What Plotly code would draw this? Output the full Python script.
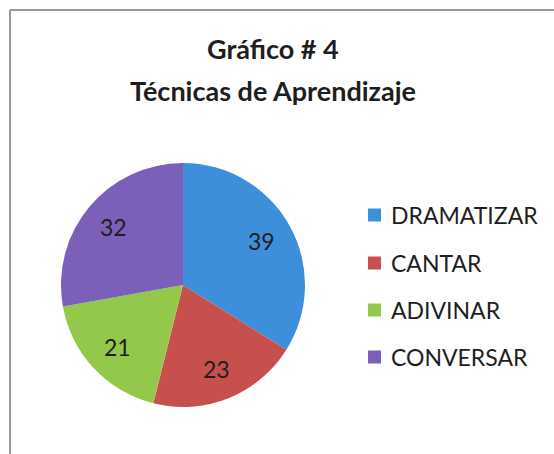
import math
import plotly.graph_objects as go

categories = ["DRAMATIZAR", "CANTAR", "ADIVINAR", "CONVERSAR"]
values = [39, 23, 21, 32]
colors = ["#3d8edb", "#c8504c", "#93c84b", "#7b5fb8"]
title_lines = ["Gráfico # 4", "Técnicas de Aprendizaje"]

W, H = 554, 454
cx, cy, r = 183, 285, 122
label_r = 0.74 * r

fig = go.Figure(go.Pie(
    labels=categories, values=values, sort=False, direction="clockwise", rotation=0,
    marker=dict(colors=colors, line=dict(width=0)),
    textinfo="none",
    domain=dict(x=[(cx - r) / W, (cx + r) / W], y=[(H - cy - r) / H, (H - cy + r) / H]),
    showlegend=False, hoverinfo="label+value",
))

shapes = [
    dict(type="line", xref="paper", yref="paper", x0=10 / W, x1=1, y0=1 - 10 / H, y1=1 - 10 / H,
         line=dict(color="#9a9a9a", width=2)),
    dict(type="line", xref="paper", yref="paper", x0=10 / W, x1=10 / W, y0=0, y1=1 - 10 / H,
         line=dict(color="#9a9a9a", width=2)),
]
annotations = []

# value labels placed along each slice's mid-angle
total = sum(values)
cum = 0
for v in values:
    mid = (cum + v / 2) / total * 2 * math.pi
    cum += v
    px = cx + label_r * math.sin(mid)
    py = cy - label_r * math.cos(mid)
    annotations.append(dict(text=str(v), xref="paper", yref="paper", x=px / W, y=1 - py / H,
                            xanchor="center", yanchor="middle", showarrow=False,
                            font=dict(family="Lato", size=23, color="#1e1e1e")))

leg_y = [215, 263, 310, 357]
for cat, col, yy in zip(categories, colors, leg_y):
    shapes.append(dict(type="rect", xref="paper", yref="paper",
                       x0=368 / W, x1=381 / W, y0=1 - (yy + 6.5) / H, y1=1 - (yy - 6.5) / H,
                       fillcolor=col, line=dict(width=0)))
    annotations.append(dict(text=cat, xref="paper", yref="paper", x=389 / W, y=1 - yy / H,
                            xanchor="left", yanchor="middle", showarrow=False,
                            font=dict(family="Lato", size=23, color="#1e1e1e")))
for txt, yy in zip(title_lines, [48, 90]):
    annotations.append(dict(text="<b>" + txt + "</b>", xref="paper", yref="paper", x=273 / W, y=1 - yy / H,
                            xanchor="center", yanchor="middle", showarrow=False,
                            font=dict(family="Lato", size=27, color="#1e1e1e")))

fig.update_layout(width=W, height=H, margin=dict(l=0, r=0, t=0, b=0),
                  paper_bgcolor="white", plot_bgcolor="white",
                  shapes=shapes, annotations=annotations)
fig.write_html("out.html", config={"displayModeBar": False},
               post_script="document.body.style.margin='0';")
